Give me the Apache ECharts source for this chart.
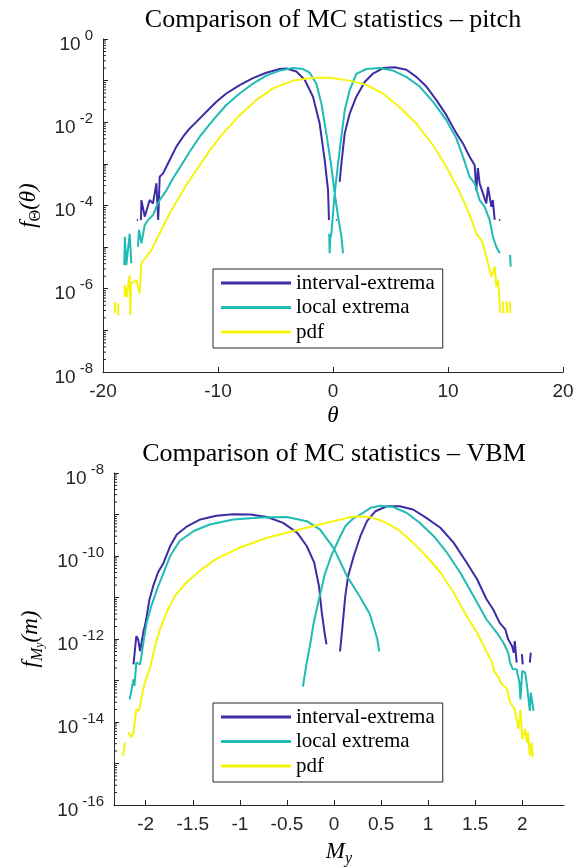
<!DOCTYPE html>
<html>
<head>
<meta charset="utf-8">
<script src="https://cdn.jsdelivr.net/npm/echarts@6/dist/echarts.min.js"></script>
<style>
  html, body { margin: 0; padding: 0; background: #fff; }
  #main { width: 579px; height: 868px; }
</style>
</head>
<body>
<div id="main"></div>
<script>
// series names
var names = ['interval-extrema', 'local extrema', 'pdf']
var colors = ['#3c2ca6', '#1fbbb4', '#f5f50c']

// pitch panel: [theta, density], null = empty bin
var pitchInterval = [
  [-17.05, 4.5e-5], [-16.95, 4.5e-5], [-16.9, null],
  [-16.7, 4.5e-5], [-16.66, 1.35e-4], [-16.37, 5.4e-5], [-16.2, 7.8e-5], [-15.94, 1.35e-4],
  [-15.65, 1.12e-4], [-15.36, 3.4e-4], [-15.2, 4.5e-5], [-15.07, 4.9e-4], [-14.78, 5.9e-4],
  [-14.49, 8.5e-4], [-14.06, 1.48e-3], [-13.62, 2.6e-3], [-13.04, 4.5e-3], [-12.46, 7.1e-3],
  [-11.88, 1.02e-2], [-11.01, 1.78e-2], [-10.14, 3.1e-2], [-9.28, 4.9e-2], [-8.12, 7.8e-2],
  [-6.96, 0.115], [-5.8, 0.155], [-4.64, 0.19], [-4.06, 0.195], [-3.19, 0.166], [-2.46, 0.105],
  [-1.74, 4.1e-2], [-1.16, 9.3e-3], [-0.72, 1.23e-3], [-0.43, 2.3e-4], [-0.35, 4.5e-5], [-0.3, null],
  [0.25, 4.5e-5], [0.33, 4.5e-5], [0.4, null],
  [0.58, 3.7e-4], [0.73, 1.02e-3], [1.02, 5.4e-3], [1.45, 1.62e-2], [2.03, 4.1e-2], [2.75, 9.3e-2],
  [3.48, 0.148], [4.35, 0.2], [5.36, 0.209], [6.38, 0.182], [7.25, 0.123], [8.12, 7.2e-2],
  [8.99, 3.4e-2], [9.86, 1.48e-2], [10.73, 5.4e-3], [11.3, 3.1e-3], [11.88, 1.48e-3], [12.32, 9.3e-4],
  [12.46, 2.3e-4], [12.6, 7.9e-4], [12.75, 3.4e-4], [13.04, 1.95e-4], [13.33, 1.12e-4], [13.48, 2.8e-4],
  [13.77, 9.3e-5], [13.9, 1.35e-4], [14.06, 4.5e-5], [14.2, null], [14.45, 4.5e-5], [14.55, 4.5e-5]
]
var pitchLocal = [
  [-18.15, 3.7e-6], [-18.1, 1.78e-5], [-17.97, 3.7e-6], [-17.83, 3.7e-6], [-17.68, 2.1e-5],
  [-17.54, 4.1e-6], [-17.3, null],
  [-16.96, 1.02e-5], [-16.87, 2.6e-5], [-16.66, 1.23e-5], [-16.37, 3.4e-5], [-16.08, 4.5e-5],
  [-15.65, 5.9e-5], [-15.36, 9.3e-5], [-15.07, 1.35e-4], [-14.49, 2.3e-4], [-13.91, 4.5e-4],
  [-13.19, 9.3e-4], [-12.46, 1.95e-3], [-11.59, 4.5e-3], [-10.43, 1.12e-2], [-9.28, 2.6e-2],
  [-8.12, 4.9e-2], [-6.96, 8.5e-2], [-5.8, 0.132], [-4.64, 0.174], [-3.48, 0.2], [-2.61, 0.19],
  [-2.03, 0.155], [-1.45, 8.5e-2], [-1.01, 2.8e-2], [-0.58, 5.4e-3], [-0.14, 8.5e-4], [0.15, 1.95e-4],
  [0.44, 5.4e-5], [0.73, 1.78e-5], [0.87, 7.1e-6], [0.9, null],
  [-0.33, 2.1e-5], [-0.29, 7.1e-6], [-0.24, 1.58e-5], [-0.14, 2.1e-5], [0.0, 6.5e-5], [0.15, 1.95e-4],
  [0.44, 1.02e-3], [0.73, 4.5e-3], [1.02, 1.95e-2], [1.45, 5.9e-2], [2.03, 0.145], [2.9, 0.19],
  [4.06, 0.2], [5.22, 0.174], [6.38, 0.123], [7.54, 7.2e-2], [8.7, 3.1e-2], [9.86, 1.12e-2],
  [10.73, 4.1e-3], [11.3, 1.48e-3], [11.88, 4.9e-4], [12.32, 3.4e-4], [12.75, 1.35e-4], [13.19, 9.3e-5],
  [13.62, 4.5e-5], [13.91, 1.78e-5], [14.2, 1.02e-5], [14.5, 7.1e-6], [15.0, null],
  [15.4, 6.5e-6], [15.45, 3.4e-6]
]
var pitchPdf = [
  [-18.98, 4.9e-7], [-18.95, 2.6e-7], [-18.85, null], [-18.7, 4.5e-7], [-18.65, 2.3e-7], [-18.4, null],
  [-18.12, 6.3e-7], [-18.1, 1.23e-6], [-17.95, 6.3e-7], [-17.68, 2.1e-6], [-17.62, 2.3e-7],
  [-17.55, 1.35e-6], [-17.39, 1.35e-6], [-17.1, 1.62e-6], [-16.81, 7.8e-7], [-16.66, 4.1e-6],
  [-16.23, 5.9e-6], [-15.8, 8.5e-6], [-15.36, 1.48e-5], [-14.78, 3.1e-5], [-14.2, 6.5e-5],
  [-13.62, 1.23e-4], [-12.75, 3.1e-4], [-11.88, 7.1e-4], [-10.72, 2.1e-3], [-9.56, 5.4e-3],
  [-8.12, 1.48e-2], [-6.67, 3.4e-2], [-5.22, 6.5e-2], [-3.48, 0.1], [-1.74, 0.117], [-0.29, 0.117],
  [1.45, 0.1], [2.9, 7.9e-2], [4.35, 4.9e-2], [5.8, 2.3e-2], [7.25, 9.3e-3], [8.7, 2.8e-3],
  [9.86, 8.5e-4], [11.01, 2.1e-4], [11.59, 9.3e-5], [12.17, 3.7e-5], [12.46, 2.1e-5], [12.9, 1.48e-5],
  [13.19, 8.5e-6], [13.48, 4.1e-6], [13.77, 1.95e-6], [14.06, 3.4e-6], [14.2, 1.12e-6], [14.35, 1.62e-6],
  [14.5, 4.5e-7], [14.55, 2.6e-7], [14.65, null], [14.78, 4.9e-7], [14.82, 2.6e-7], [14.95, null],
  [15.1, 5e-7], [15.15, 2.6e-7], [15.25, null], [15.38, 4.9e-7], [15.42, 2.6e-7]
]

// VBM panel: [M_y, density]
var vbmInterval = [
  [-2.13, 2.45e-13], [-2.10, 1.17e-12], [-2.08, 9.8e-13], [-2.06, 5.1e-13], [-2.02, 1.7e-12],
  [-2.01, 2.0e-12], [-1.99, 3.5e-12], [-1.96, 9.1e-12], [-1.92, 1.9e-11], [-1.87, 4.0e-11],
  [-1.81, 6.9e-11], [-1.74, 1.74e-10], [-1.67, 3.3e-10], [-1.56, 5.2e-10], [-1.42, 7.6e-10],
  [-1.25, 9.3e-10], [-1.07, 1.02e-9], [-0.89, 1.0e-9], [-0.71, 8.7e-10], [-0.54, 6.3e-10],
  [-0.39, 3.6e-10], [-0.29, 1.74e-10], [-0.21, 6.9e-11], [-0.16, 1.9e-11], [-0.13, 4.4e-12],
  [-0.10, 1.41e-12], [-0.08, 7.4e-13], [0, null],
  [0.064, 5.0e-13], [0.08, 1.17e-12], [0.10, 3.5e-12], [0.12, 1.1e-11], [0.15, 3.3e-11],
  [0.21, 1.0e-10], [0.28, 3.0e-10], [0.35, 6.9e-10], [0.44, 1.2e-9], [0.56, 1.58e-9], [0.70, 1.58e-9],
  [0.84, 1.32e-9], [0.98, 8.3e-10], [1.13, 4.8e-10], [1.27, 2.1e-10], [1.41, 6.9e-11], [1.52, 2.75e-11],
  [1.62, 9.1e-12], [1.69, 5.2e-12], [1.76, 2.45e-12], [1.82, 1.7e-12], [1.85, 9.8e-13], [1.89, 6.8e-13],
  [1.91, 4.7e-13], [1.92, 8.9e-13], [1.94, 2.7e-13], [1.97, null], [1.995, 4.3e-13], [2.005, 2.45e-13],
  [2.04, null], [2.08, 2.7e-13], [2.09, 4.7e-13]
]
var vbmLocal = [
  [-2.17, 3.5e-14], [-2.13, 1.07e-13], [-2.12, 7.4e-14], [-2.10, 2.7e-13], [-2.06, 2.45e-13],
  [-2.04, 4.7e-13], [-2.02, 9.8e-13], [-1.99, 2.45e-12], [-1.94, 6.3e-12], [-1.88, 1.58e-11],
  [-1.81, 4.0e-11], [-1.74, 1.0e-10], [-1.64, 2.3e-10], [-1.49, 4.0e-10], [-1.32, 5.75e-10],
  [-1.07, 7.6e-10], [-0.78, 8.5e-10], [-0.50, 8.7e-10], [-0.29, 6.9e-10], [-0.15, 4.4e-10],
  [0.0, 1.5e-10], [0.14, 3.2e-11], [0.28, 1.0e-11], [0.38, 4.0e-12], [0.46, 1.0e-12], [0.48, 5.0e-13],
  [0.5, null],
  [-0.33, 7.1e-14], [-0.29, 2.7e-13], [-0.25, 8.1e-13], [-0.22, 2.2e-12], [-0.16, 9.1e-12],
  [-0.10, 3.5e-11], [-0.03, 1.0e-10], [0.05, 2.5e-10], [0.12, 5.2e-10], [0.20, 7.9e-10], [0.28, 1.0e-9],
  [0.39, 1.45e-9], [0.49, 1.62e-9], [0.63, 1.51e-9], [0.77, 1.1e-9], [0.91, 6.3e-10], [1.06, 3.0e-10],
  [1.20, 1.2e-10], [1.34, 4.0e-11], [1.48, 1.1e-11], [1.62, 2.95e-12], [1.73, 1.41e-12], [1.80, 8.1e-13],
  [1.85, 4.7e-13], [1.87, 2.7e-13], [1.90, 1.86e-13], [1.94, 1.86e-13], [1.97, 8.9e-14], [1.98, 3.5e-14],
  [2.0, 1.7e-13], [2.03, 1.55e-13], [2.05, 7.4e-14], [2.08, 1.86e-14], [2.09, 5.1e-14], [2.12, 1.86e-14]
]
var vbmPdf = [
  [-2.24, 1.55e-15], [-2.22, 3.2e-15], [-2.2, null], [-2.19, 5.6e-15], [-2.17, 5.6e-15],
  [-2.15, 4.3e-15], [-2.13, 5.6e-15], [-2.12, 5.6e-15], [-2.10, 2.0e-14], [-2.07, 1.86e-14],
  [-2.04, 4.3e-14], [-2.01, 8.9e-14], [-1.95, 2.2e-13], [-1.90, 6.8e-13], [-1.85, 1.7e-12],
  [-1.77, 4.8e-12], [-1.69, 1.1e-11], [-1.56, 2.4e-11], [-1.42, 4.5e-11], [-1.25, 8.5e-11],
  [-1.00, 1.6e-10], [-0.71, 2.75e-10], [-0.43, 4.0e-10], [-0.15, 5.75e-10], [0.14, 8.3e-10],
  [0.24, 9.1e-10], [0.42, 8.3e-10], [0.56, 6.3e-10], [0.70, 4.0e-10], [0.84, 2.1e-10], [0.98, 1.0e-10],
  [1.13, 4.0e-11], [1.27, 1.32e-11], [1.41, 3.5e-12], [1.52, 1.41e-12], [1.61, 5.6e-13], [1.68, 2.7e-13],
  [1.70, 1.7e-13], [1.75, 1.17e-13], [1.77, 8.9e-14], [1.84, 6.2e-14], [1.87, 3.0e-14], [1.92, 2.0e-14],
  [1.94, 1.17e-14], [1.96, 6.8e-15], [1.97, 1.17e-14], [1.98, 2.0e-14], [2.0, 3.9e-15], [2.03, 6.8e-15],
  [2.05, 3.2e-15], [2.06, 5.6e-15], [2.08, 1.55e-15], [2.10, 3.2e-15], [2.11, 1.41e-15]
]

// axis ranges
var pitchX = [-20, 20]
var pitchY = [1e-8, 1]
var vbmX = [-2.337, 2.443]
var vbmY = [1e-16, 1e-8]
var minorMant = [2, 3, 4, 5, 6, 7, 8, 9]

var axisColor = '#262626'
var sans = 'Liberation Sans'
var serif = 'Liberation Serif'

function gaps(arr) {
  return arr.map(function (p) { return [p[0], p[1] == null ? '-' : p[1]] })
}

function minorVals(range) {
  var lo = Math.round(Math.log10(range[0])), hi = Math.round(Math.log10(range[1]))
  var out = []
  for (var d = lo; d < hi; d++) {
    minorMant.forEach(function (m) { out.push(m * Math.pow(10, d)) })
  }
  return out
}

function minorTicks(idx, x0, range) {
  return {
    type: 'custom', xAxisIndex: idx, yAxisIndex: idx, silent: true, clip: false, z: 5,
    data: minorVals(range).map(function (v) { return [x0, v] }),
    renderItem: function (params, api) {
      var p = api.coord([api.value(0), api.value(1)])
      return {
        type: 'line',
        shape: { x1: p[0], y1: p[1], x2: p[0] + 3, y2: p[1] },
        style: { stroke: axisColor, lineWidth: 1 }
      }
    }
  }
}

function logLabel(v) {
  var e = Math.round(Math.log10(v))
  if (e % 2 !== 0) return ''
  return '{b|10}{e|' + e + '}'
}

function xAxis(idx, range, nameRich, nameText, gap) {
  return {
    gridIndex: idx, type: 'value', min: range[0], max: range[1],
    splitNumber: idx === 0 ? 4 : 10,
    splitLine: { show: false },
    axisLine: { onZero: false, lineStyle: { color: axisColor, width: 1 } },
    axisTick: { inside: true, length: 5, lineStyle: { color: axisColor } },
    axisLabel: {
      fontFamily: sans, fontSize: 19, color: axisColor, margin: 10,
      showMinLabel: idx === 0, showMaxLabel: idx === 0
    },
    name: nameText, nameLocation: 'middle', nameGap: gap,
    nameTextStyle: {
      fontFamily: serif, fontSize: 23, color: '#000',
      rich: nameRich
    }
  }
}

function yAxis(idx, range, nameText, gap) {
  return {
    gridIndex: idx, type: 'log', logBase: 10, min: range[0], max: range[1],
    splitLine: { show: false },
    axisLine: { show: true, onZero: false, lineStyle: { color: axisColor, width: 1 } },
    axisTick: { show: true, inside: true, length: 5, lineStyle: { color: axisColor } },
    axisLabel: {
      formatter: logLabel, margin: 10,
      rich: {
        b: { fontFamily: sans, fontSize: 19, color: axisColor, lineHeight: 30, verticalAlign: 'bottom' },
        e: { fontFamily: sans, fontSize: 15, color: axisColor, lineHeight: 15, verticalAlign: 'top', padding: [4, 0, 0, 4] }
      }
    },
    name: nameText, nameLocation: 'middle', nameRotate: 90, nameGap: gap,
    nameTextStyle: {
      rich: {
        i: { fontFamily: serif, fontStyle: 'italic', fontSize: 23, color: '#000', lineHeight: 30 },
        s: { fontFamily: serif, fontSize: 16, color: '#000', lineHeight: 16, verticalAlign: 'bottom' },
        si: { fontFamily: serif, fontStyle: 'italic', fontSize: 16, color: '#000', lineHeight: 16, verticalAlign: 'bottom' },
        ss: { fontFamily: serif, fontStyle: 'italic', fontSize: 12, color: '#000', lineHeight: 8, verticalAlign: 'bottom' }
      }
    }
  }
}

function legend(top) {
  return {
    orient: 'vertical', left: 213, top: top, data: names,
    icon: 'rect', padding: [3, 8, 5, 8], itemGap: 2.5, itemWidth: 70, itemHeight: 3,
    borderColor: axisColor, borderWidth: 1, backgroundColor: '#fff',
    selectedMode: false,
    textStyle: { fontFamily: serif, fontSize: 21, color: '#000', lineHeight: 22 }
  }
}

function lineSeries(idx, k, data) {
  return {
    type: 'line', name: names[k], xAxisIndex: idx, yAxisIndex: idx,
    data: gaps(data), showSymbol: false, symbol: 'none', connectNulls: false,
    color: colors[k], lineStyle: { width: 2, color: colors[k] }
  }
}

var chart = echarts.init(document.getElementById('main'), null, { renderer: 'canvas' })
chart.setOption({
  animation: false,
  backgroundColor: '#fff',
  title: [
    { text: 'Comparison of MC statistics – pitch', left: 333, top: 7, textAlign: 'center', padding: 0,
      textStyle: { fontFamily: serif, fontWeight: 'normal', fontSize: 26, color: '#000' } },
    { text: 'Comparison of MC statistics – VBM', left: 334, top: 441, textAlign: 'center', padding: 0,
      textStyle: { fontFamily: serif, fontWeight: 'normal', fontSize: 26, color: '#000' } }
  ],
  grid: [
    { left: 103, top: 39, width: 460, height: 333 },
    { left: 114, top: 473, width: 450, height: 332 }
  ],
  legend: [legend(269), legend(703)],
  xAxis: [
    xAxis(0, pitchX, { i: { fontFamily: serif, fontStyle: 'italic', fontSize: 23 } }, '{i|θ}', 32),
    xAxis(1, vbmX, {
      i: { fontFamily: serif, fontStyle: 'italic', fontSize: 23, lineHeight: 30 },
      s: { fontFamily: serif, fontStyle: 'italic', fontSize: 16, lineHeight: 16, verticalAlign: 'bottom' }
    }, '{i|M}{s|y}', 32)
  ],
  yAxis: [
    yAxis(0, pitchY, '{i|f}{s|Θ}{i|(θ)}', 57),
    yAxis(1, vbmY, '{i|f}{si|M}{ss|y}{i|(m)}', 68)
  ],
  series: [
    lineSeries(0, 0, pitchInterval),
    lineSeries(0, 1, pitchLocal),
    lineSeries(0, 2, pitchPdf),
    lineSeries(1, 0, vbmInterval),
    lineSeries(1, 1, vbmLocal),
    lineSeries(1, 2, vbmPdf),
    minorTicks(0, pitchX[0], pitchY),
    minorTicks(1, vbmX[0], vbmY)
  ]
})
</script>
</body>
</html>
